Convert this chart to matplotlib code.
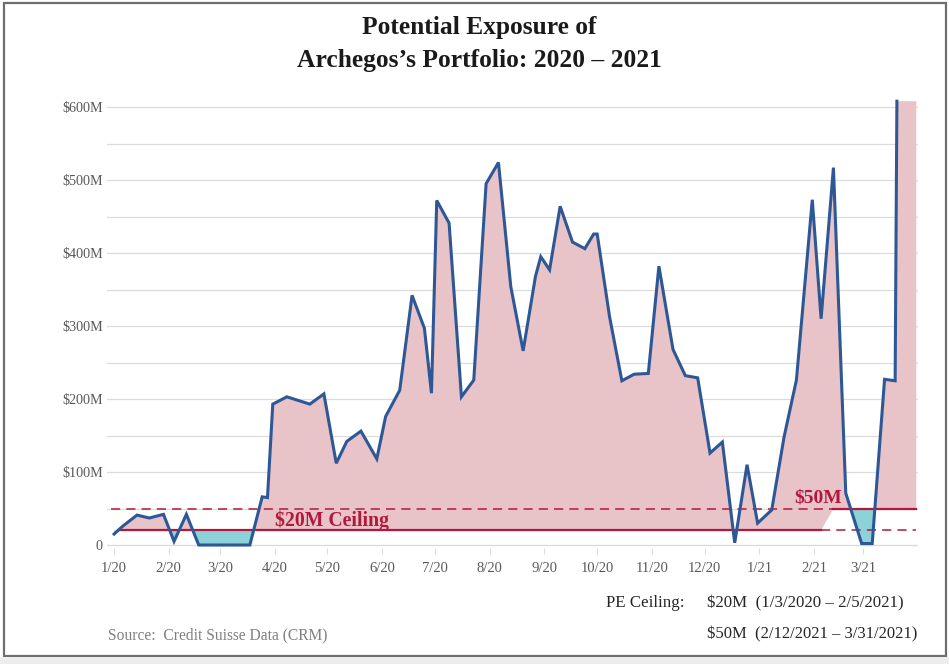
import matplotlib
matplotlib.use('Agg')
import matplotlib.pyplot as plt
import matplotlib.dates as mdates
from matplotlib.patches import Rectangle
import numpy as np

# ---------------- data ----------------
dates = ['2020-01-01', '2020-01-06', '2020-01-14', '2020-01-21', '2020-01-29',
         '2020-02-04', '2020-02-11', '2020-02-18', '2020-03-18', '2020-03-25',
         '2020-03-28', '2020-03-31', '2020-04-08', '2020-04-21', '2020-04-29',
         '2020-05-06', '2020-05-12', '2020-05-20', '2020-05-29', '2020-06-03',
         '2020-06-11', '2020-06-18', '2020-06-25', '2020-06-29', '2020-07-02',
         '2020-07-09', '2020-07-16', '2020-07-23', '2020-07-30', '2020-08-06',
         '2020-08-13', '2020-08-20', '2020-08-27', '2020-08-30', '2020-09-04',
         '2020-09-10', '2020-09-17', '2020-09-24', '2020-09-29', '2020-10-01',
         '2020-10-08', '2020-10-15', '2020-10-22', '2020-10-30', '2020-11-05',
         '2020-11-13', '2020-11-20', '2020-11-27', '2020-12-04', '2020-12-11',
         '2020-12-18', '2020-12-25', '2020-12-31', '2021-01-08', '2021-01-15',
         '2021-01-22', '2021-01-31', '2021-02-05', '2021-02-12', '2021-02-19',
         '2021-02-28', '2021-03-06', '2021-03-13', '2021-03-19', '2021-03-20']
exposure = [15, 26, 41, 37, 42,
            5, 42, 0, 0, 66,
            65, 193, 203, 193, 207,
            112, 142, 156, 118, 176,
            212, 342, 297, 208, 472,
            441, 203, 226, 495, 524,
            354, 266, 368, 395, 377,
            464, 415, 406, 426, 426,
            313, 225, 234, 235, 382,
            268, 232, 229, 126, 141,
            3, 110, 30, 48, 148,
            226, 473, 310, 517, 71,
            2, 2, 227, 225, 608]

ceiling_dates = ['2020-01-03', '2021-02-05', '2021-02-12', '2021-03-31']
ceiling_values = [20, 20, 50, 50]

period_end = '2021-03-31'

month_ticks = ['2020-01-01', '2020-02-01', '2020-03-01', '2020-04-01', '2020-05-01',
               '2020-06-01', '2020-07-01', '2020-08-01', '2020-09-01', '2020-10-01',
               '2020-11-01', '2020-12-01', '2021-01-01', '2021-02-01', '2021-03-01']
month_labels = ['1/20', '2/20', '3/20', '4/20', '5/20', '6/20', '7/20', '8/20',
                '9/20', '10/20', '11/20', '12/20', '1/21', '2/21', '3/21']

ytick_values = [0, 100, 200, 300, 400, 500, 600]
ytick_labels = ['0', '$100M', '$200M', '$300M', '$400M', '$500M', '$600M']

# ---------------- styles ----------------
SERIF = ['Liberation Serif', 'DejaVu Serif']
LINE_C = '#2E5796'
PINK = '#E8C3C8'
CYAN = '#8ED2D9'
RED = '#B3173C'
GRID = '#DCDCDC'
TICK_C = '#595959'

plt.rcParams['font.family'] = SERIF

fig = plt.figure(figsize=(9.49, 6.64), dpi=100)
ax = fig.add_axes([0.1128, 0.1748, 0.8546, 0.686])

x = mdates.datestr2num(dates)
y = np.array(exposure, dtype=float)
cx = mdates.datestr2num(ceiling_dates)
cv = np.array(ceiling_values, dtype=float)
xend = mdates.datestr2num(period_end)

# fill arrays (extend last value to end of period)
fx = np.append(x, xend)
fy = np.append(y, y[-1])
grid = np.unique(np.concatenate([fx, cx]))
gy = np.interp(grid, fx, fy)
gc = np.interp(grid, cx, cv)

ax.fill_between(grid, gy, gc, where=gy >= gc, interpolate=True,
                color=PINK, linewidth=0, zorder=1)
ax.fill_between(grid, gy, gc, where=gy < gc, interpolate=True,
                color=CYAN, linewidth=0, zorder=1)

# gridlines every 50M
for g in np.arange(50, 650, 50):
    ax.axhline(g, color=GRID, lw=0.9, zorder=0.5)
ax.axhline(0, color=GRID, lw=1.0, zorder=0.5)

# ceiling lines
ax.plot([cx[0], cx[1]], [cv[0], cv[1]], color=RED, lw=1.6, zorder=2)
ax.plot([cx[1], cx[3]], [cv[0], cv[0]], color=RED, lw=1.1, ls=(0, (6, 4)), zorder=2)
ax.plot([mdates.datestr2num('2019-12-30'), cx[2]], [cv[2], cv[2]], color=RED, lw=1.1,
        ls=(0, (6, 4)), zorder=2)
ax.plot([cx[2], cx[3]], [cv[2], cv[3]], color=RED, lw=1.6, zorder=2)

# exposure line
ax.plot(x, y, color=LINE_C, lw=2.2, zorder=3, solid_joinstyle='miter')

# annotations
ax.text(mdates.datestr2num('2020-04-01'), 33, '$20M Ceiling', color=RED,
        fontsize=14.2, fontweight='bold', ha='left', va='center', zorder=4)
ax.text(mdates.datestr2num('2021-01-21'), 65, '$50M', color=RED,
        fontsize=14, fontweight='bold', ha='left', va='center', zorder=4)

ax.set_xlim(mdates.datestr2num('2019-12-28'), mdates.datestr2num('2021-04-01'))
ax.set_ylim(-4, 620)
ax.set_xticks(mdates.datestr2num(month_ticks))
ax.set_xticklabels(month_labels)
ax.set_yticks(ytick_values)
ax.set_yticklabels(ytick_labels)
ax.tick_params(axis='x', length=4, color=GRID, labelsize=10.5, labelcolor=TICK_C, pad=6)
ax.tick_params(axis='y', length=0, labelsize=10.2, labelcolor=TICK_C, pad=3)
for s in ax.spines.values():
    s.set_visible(False)

# titles and footers
fig.text(0.505, 0.958, 'Potential Exposure of', ha='center', va='center',
         fontsize=18.4, fontweight='bold', color='#1A1A1A')
fig.text(0.505, 0.909, 'Archegos\u2019s Portfolio: 2020 \u2013 2021', ha='center',
         va='center', fontsize=18.4, fontweight='bold', color='#1A1A1A')

fig.text(0.6386, 0.0919, 'PE Ceiling:', ha='left', va='center', fontsize=12.2, color='#262626')
fig.text(0.745, 0.0919, '$20M  (1/3/2020 \u2013 2/5/2021)', ha='left', va='center',
         fontsize=12.2, color='#262626')
fig.text(0.745, 0.0452, '$50M  (2/12/2021 \u2013 3/31/2021)', ha='left', va='center',
         fontsize=12.0, color='#262626')
fig.text(0.1138, 0.0437, 'Source:  Credit Suisse Data (CRM)', ha='left', va='center',
         fontsize=11.2, color='#808080')

# frame
fig.patches.append(Rectangle((0.004, 0.012), 0.993, 0.984, transform=fig.transFigure,
                             fill=False, edgecolor='#6E6E6E', lw=1.6))
fig.patches.append(Rectangle((0.0, 0.0), 1.0, 0.011, transform=fig.transFigure,
                             facecolor='#EDEDED', edgecolor='none'))

fig.savefig('out.png', dpi=100)
